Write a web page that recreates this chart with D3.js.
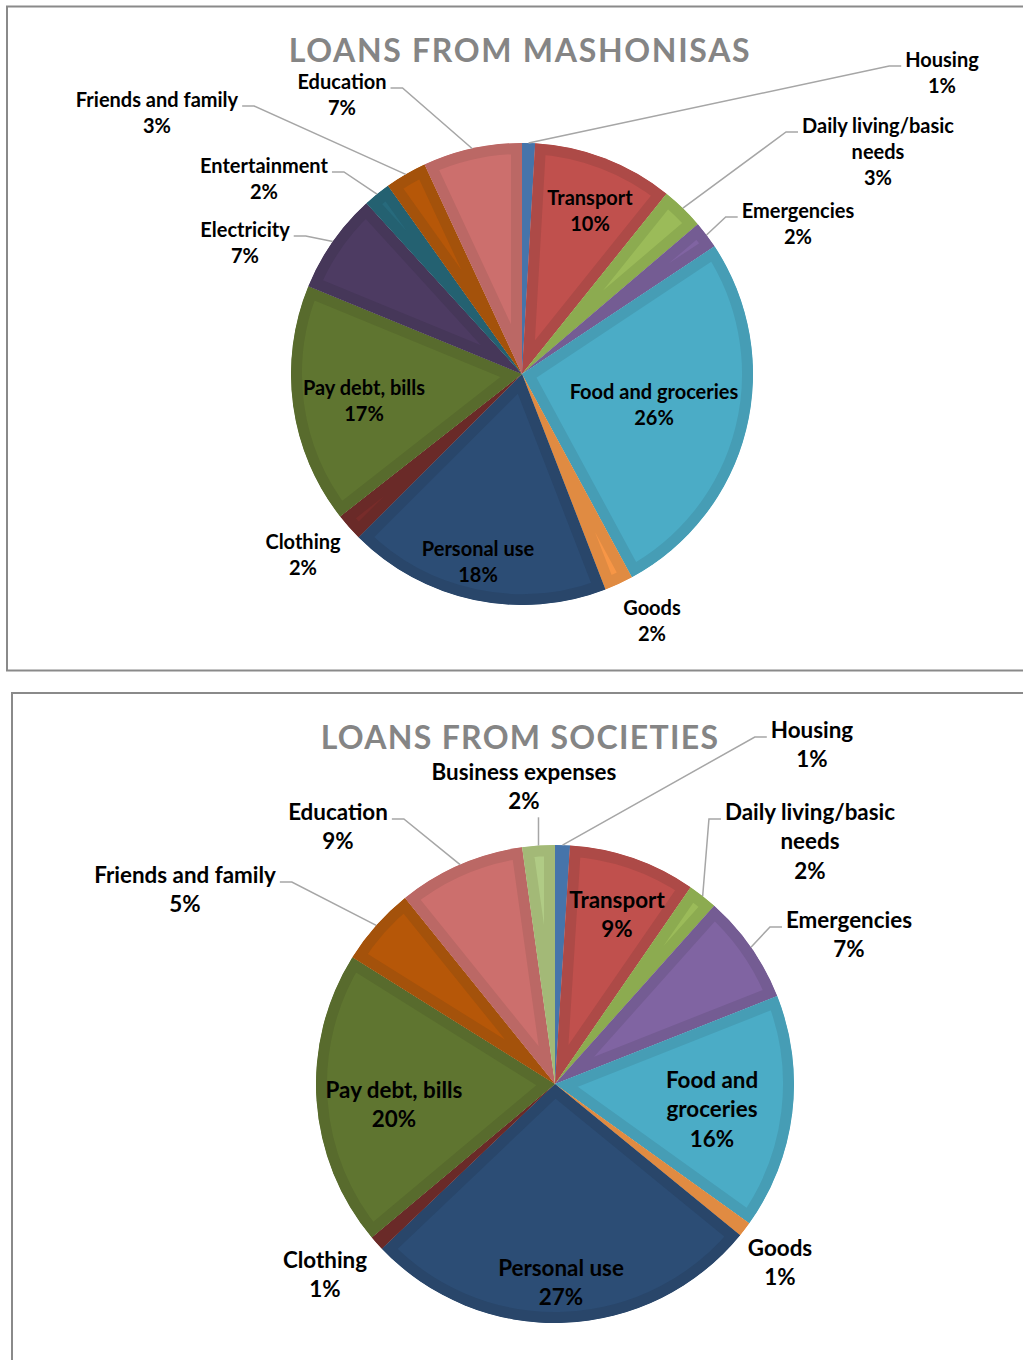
<!DOCTYPE html>
<html>
<head>
<meta charset="utf-8">
<script src="https://cdn.jsdelivr.net/npm/d3@7"></script>
<style>
  body { margin: 0; background: #fff; }
  svg { display: block; }
  .lbl { font-family: Lato, "Open Sans", sans-serif; font-weight: bold; fill: #000; }
  .ttl { font-family: Lato, "Open Sans", sans-serif; font-weight: bold; fill: #858585; }
</style>
</head>
<body>
<svg id="chart" width="1023" height="1360"></svg>
<script>

// ---- data ----
const topTitle = 'LOANS FROM MASHONISAS';
const topCats = ['Housing', 'Transport', 'Daily living/basic needs', 'Emergencies', 'Food and groceries',
    'Goods', 'Personal use', 'Clothing', 'Pay debt, bills', 'Electricity', 'Entertainment',
    'Friends and family', 'Education'];
const topValues = [0.9, 9.8, 3.0, 1.9, 26.3, 2.0, 18.3, 1.9, 16.7, 7.0, 1.9, 2.9, 6.9];

const botTitle = 'LOANS FROM SOCIETIES';
const botCats = ['Housing', 'Transport', 'Daily living/basic needs', 'Emergencies', 'Food and groceries',
    'Goods', 'Personal use', 'Clothing', 'Pay debt, bills', 'Friends and family', 'Education',
    'Business expenses'];
const botValues = [1.0, 8.6, 2.0, 7.4, 15.9, 1.0, 27.0, 1.0, 20.0, 5.3, 8.6, 2.2];

// ---- styles ----
const fills = {
    'Housing': ['#4f81bd', '#4674aa'],
    'Transport': ['#c0504d', '#ad4a47'],
    'Daily living/basic needs': ['#9bbb59', '#8cab50'],
    'Emergencies': ['#8064a2', '#745c93'],
    'Food and groceries': ['#4bacc6', '#469db5'],
    'Goods': ['#f79646', '#e08b42'],
    'Personal use': ['#2c4d75', '#29466a'],
    'Clothing': ['#772c2a', '#6a2a28'],
    'Pay debt, bills': ['#5f7530', '#586b2d'],
    'Electricity': ['#4d3b62', '#463759'],
    'Entertainment': ['#276a7c', '#246171'],
    'Friends and family': ['#b65708', '#a4520b'],
    'Education': ['#cc6f6d', '#bb6865'],
    'Business expenses': ['#b0cb85', '#a3b977']
};

// label anchor (text centre x, first baseline y) relative to pie centre, and leader type
const topLayout = {
    cx: 522, cy: 374, r: 231, font: 20, lh: 25.8, titleY: 62, titleSize: 32, titleSpacing: 1.7,
    pos: [[420, -307], [68, -169], [356, -241], [276, -156], [132, 25], [130, 241], [-44, 182],
        [-219, 175], [-158, 21], [-277, -137], [-258, -201], [-365, -267], [-180, -285]],
    leader: ['side', '', 'side', 'side', '', '', '', '', '', 'side', 'side', 'side', 'side'],
    lines: {'Daily living/basic needs': ['Daily living/basic', 'needs']}
};
const botLayout = {
    cx: 555, cy: 1084, r: 239, font: 22.4, lh: 29.3, titleY: 749, titleSize: 32, titleSpacing: 1.3,
    pos: [[257, -346], [62, -176], [255, -264], [294, -156], [157, 4], [225, 172], [6, 192],
        [-230, 184], [-161, 14], [-370, -201], [-217, -264], [-31, -304]],
    leader: ['side', '', 'side', 'side', '', '', '', '', '', 'side', 'side', 'below'],
    lines: {'Daily living/basic needs': ['Daily living/basic', 'needs'],
        'Food and groceries': ['Food and', 'groceries']}
};

const svg = d3.select('#chart');

// chart frames
svg.append('rect').attr('x', 7).attr('y', 6.5).attr('width', 1040).attr('height', 664)
    .attr('fill', 'none').attr('stroke', '#8a8a8a').attr('stroke-width', 2);
svg.append('rect').attr('x', 12).attr('y', 693).attr('width', 1040).attr('height', 700)
    .attr('fill', 'none').attr('stroke', '#8a8a8a').attr('stroke-width', 2);

function drawPie (id, title, cats, values, lay) {

    var g = svg.append('g').attr('id', id);
    var total = d3.sum(values);
    var pct = d3.format('.0%');

    var pie = d3.pie().sort(null).value(function (d) { return d.value; });
    var arc = d3.arc().innerRadius(0).outerRadius(lay.r);
    var data = cats.map(function (c, i) { return {cat: c, value: values[i], i: i}; });
    var arcs = pie(data);

    var slices = g.append('g').attr('transform', 'translate(' + lay.cx + ',' + lay.cy + ')');

    slices.selectAll('clipPath').data(arcs).enter().append('clipPath')
        .attr('id', function (d) { return id + 'clip' + d.index; })
        .append('path').attr('d', arc);

    slices.selectAll('path.slice').data(arcs).enter().append('path')
        .attr('class', 'slice')
        .attr('d', arc)
        .attr('fill', function (d) { return fills[d.data.cat][0]; })
        .attr('stroke', function (d) { return fills[d.data.cat][1]; })
        .attr('stroke-width', 22)
        .attr('clip-path', function (d) { return 'url(#' + id + 'clip' + d.index + ')'; });

    // title
    g.append('text').attr('class', 'ttl')
        .attr('x', 520).attr('y', lay.titleY)
        .attr('text-anchor', 'middle')
        .style('font-size', lay.titleSize + 'px')
        .style('letter-spacing', lay.titleSpacing + 'px')
        .text(title);

    // labels
    arcs.forEach(function (d) {
        var name = d.data.cat;
        var lines = (lay.lines[name] || [name]).concat([pct(d.data.value / total)]);
        var lx = lay.cx + lay.pos[d.index][0];
        var ly = lay.cy + lay.pos[d.index][1];

        var t = g.append('text').attr('class', 'lbl')
            .attr('text-anchor', 'middle')
            .style('font-size', lay.font + 'px');
        lines.forEach(function (s, k) {
            t.append('tspan').attr('x', lx).attr('y', ly + k * lay.lh).text(s);
        });

        var kind = lay.leader[d.index];
        if (!kind) return;

        var mid = (d.startAngle + d.endAngle) / 2;
        var sx = lay.cx + lay.r * Math.sin(mid);
        var sy = lay.cy - lay.r * Math.cos(mid);
        var pts;
        if (kind == 'below') {
            var bottom = ly + (lines.length - 1) * lay.lh + 8;
            pts = [[sx, sy], [sx, bottom]];
        } else {
            var w = t.select('tspan').node().getComputedTextLength();
            var right = lx > sx;
            var ex = right ? lx - w / 2 - 4 : lx + w / 2 + 4;
            var bx = right ? ex - 12 : ex + 12;
            pts = [[sx, sy], [bx, ly - 1], [ex, ly - 1]];
        }
        g.append('path')
            .attr('d', d3.line()(pts))
            .attr('fill', 'none')
            .attr('stroke', '#a6a6a6')
            .attr('stroke-width', 1.5);
    });
}

drawPie('topPie', topTitle, topCats, topValues, topLayout);
drawPie('botPie', botTitle, botCats, botValues, botLayout);

</script>
</body>
</html>
